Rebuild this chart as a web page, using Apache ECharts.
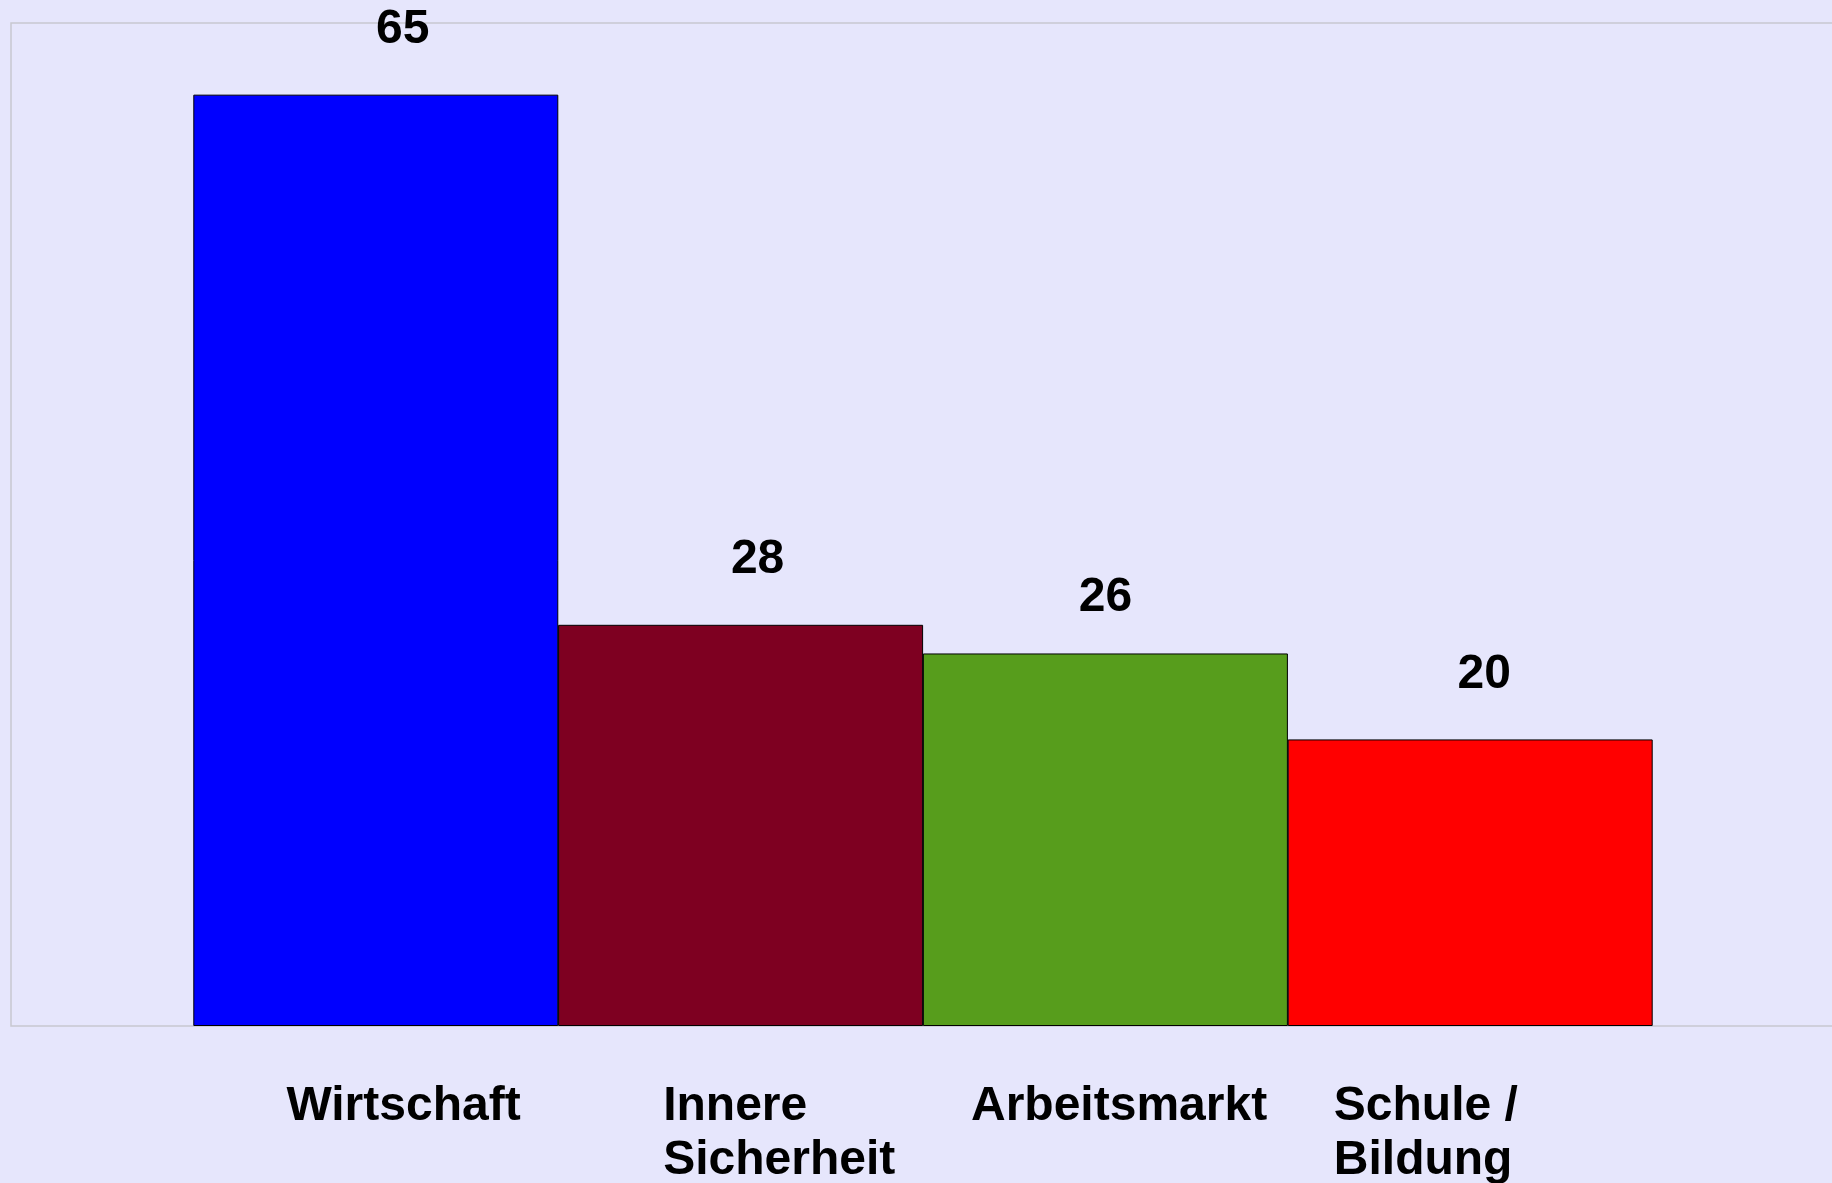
<!DOCTYPE html>
<html>
<head>
<meta charset="utf-8">
<script src="https://cdn.jsdelivr.net/npm/echarts@6/dist/echarts.min.js"></script>
<style>
  html, body { margin: 0; padding: 0; background: #e6e6fc; }
  #main { width: 1832px; height: 1183px; }
</style>
</head>
<body>
<div id="main"></div>
<script>
// data
const categories = ['Wirtschaft', 'Innere\nSicherheit', 'Arbeitsmarkt', 'Schule /\nBildung'];
const values = [65, 28, 26, 20];
const barColors = ['#0000ff', '#7e0021', '#579d1c', '#ff0000'];

// label nudges (px), the original labels are not centred on the bars
const valueLabelShift = [[27, 0], [17, 0], [0, 9], [14, 0]];
const catLabelPad = [93, 105, 48, 46];

const font = 'Liberation Sans, Arial, sans-serif';
const chart = echarts.init(document.getElementById('main'));

const rich = {};
catLabelPad.forEach((p, i) => {
  rich['c' + i] = {
    fontSize: 48,
    fontWeight: 'bold',
    fontFamily: font,
    color: '#000',
    lineHeight: 54,
    padding: [0, 0, 0, p]
  };
});

const option = {
  backgroundColor: '#e6e6fc',
  animation: false,
  grid: {
    left: 11,
    right: -3,
    top: 23,
    bottom: 157,
    outerBoundsMode: 'none',
    containLabel: false,
    show: true,
    borderColor: '#c8c8d0',
    borderWidth: 1.5,
    backgroundColor: 'transparent'
  },
  xAxis: {
    type: 'value',
    min: 0,
    max: 5,
    interval: 1,
    splitLine: { show: false },
    axisLine: { show: false },
    axisTick: { show: false },
    axisLabel: {
      show: true,
      customValues: categories.map((c, i) => i + 0.5),
      align: 'left',
      verticalAlign: 'top',
      margin: 54,
      formatter: function (v) {
        const i = Math.round(v - 0.5);
        if (i < 0 || i >= categories.length) return '';
        return categories[i].split('\n').map(l => '{c' + i + '|' + l + '}').join('\n');
      },
      rich: rich
    }
  },
  yAxis: {
    type: 'value',
    min: 0,
    max: 70,
    show: false,
    splitLine: { show: false }
  },
  series: [{
    type: 'bar',
    barWidth: 365,
    data: values.map((v, i) => ({
      value: [i + 1, v],
      itemStyle: { color: barColors[i] },
      label: { offset: valueLabelShift[i] }
    })),
    itemStyle: { borderColor: '#000', borderWidth: 1 },
    label: {
      show: true,
      position: 'top',
      distance: 41,
      fontSize: 48,
      lineHeight: 48,
      fontWeight: 'bold',
      fontFamily: font,
      color: '#000',
      formatter: p => p.value[1]
    }
  }]
};
chart.setOption(option);
</script>
</body>
</html>
